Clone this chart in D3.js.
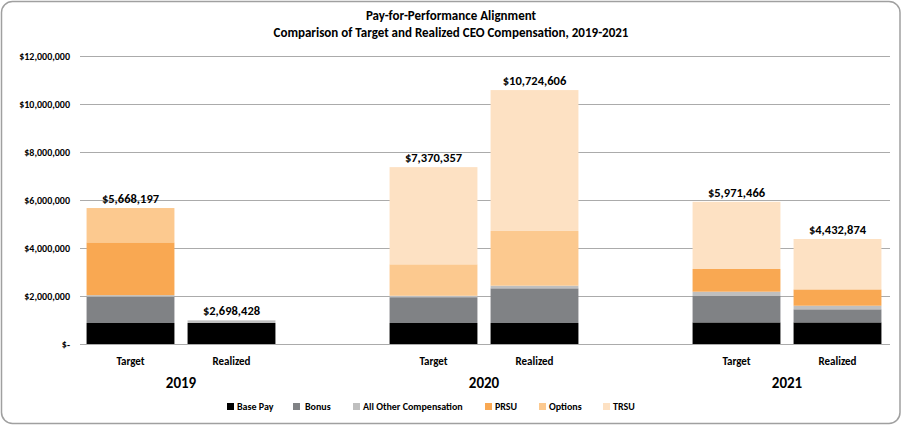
<!DOCTYPE html>
<html>
<head>
<meta charset="utf-8">
<script src="https://cdn.jsdelivr.net/npm/d3@7"></script>
<style>
  html, body { margin: 0; padding: 0; background: #fff; }
  svg { display: block; }
  text { font-family: Carlito, "Liberation Sans Narrow", "Arial Narrow", "Open Sans", sans-serif; font-weight: bold; fill: #000; }
</style>
</head>
<body>
<script>
// ---- data ----
const slots = ["2019-T", "2019-R", "gapA", "2020-T", "2020-R", "gapB", "2021-T", "2021-R"];
const barLabels = ["Target", "Realized", "", "Target", "Realized", "", "Target", "Realized"];
const years = ["2019", "2020", "2021"];
const seriesNames = ["Base Pay", "Bonus", "All Other Compensation", "PRSU", "Options", "TRSU"];
const basePay  = [875000, 875000, 0, 875000, 875000, 0, 900000, 900000];
const bonus    = [1100000, 0, 0, 1075000, 1445000, 0, 1100000, 545000];
const allOther = [60000, 110000, 0, 60000, 110000, 0, 180000, 150000];
const prsu     = [2200000, 0, 0, 0, 0, 0, 945000, 680000];
const options  = [1430000, 0, 0, 1310000, 2280000, 0, 0, 0];
const trsu     = [0, 0, 0, 4050000, 5870000, 0, 2800000, 2100000];
const totalLabels = ["$5,668,197", "$2,698,428", "", "$7,370,357", "$10,724,606", "", "$5,971,466", "$4,432,874"];
const yTicks = [0, 2000000, 4000000, 6000000, 8000000, 10000000, 12000000];
const colors = ["#000000", "#808285", "#bfbfbf", "#f9a852", "#fcc98f", "#fde1c3"];

// ---- layout ----
const W = 902, H = 426;
const svg = d3.select("body").append("svg").attr("width", W).attr("height", H);

svg.append("rect").attr("x", 1.5).attr("y", 1.5).attr("width", W - 3.5).attr("height", H - 4)
  .attr("rx", 11).attr("ry", 11).attr("fill", "#fff").attr("stroke", "#a0a0a0").attr("stroke-width", 1.5);

svg.append("text").attr("x", 451).attr("y", 19.5).attr("text-anchor", "middle")
  .style("font-size", "13px").text("Pay-for-Performance Alignment");
svg.append("text").attr("x", 451).attr("y", 37).attr("text-anchor", "middle")
  .style("font-size", "13px").text("Comparison of Target and Realized CEO Compensation, 2019-2021");

const x = d3.scaleBand().domain(slots).range([80, 888]).paddingInner(0.13).paddingOuter(0.065);
const y = d3.scaleLinear().domain([0, 12000000]).range([344, 56]);

// gridlines
svg.append("g").selectAll("line").data(yTicks).join("line")
  .attr("x1", 80).attr("x2", 890)
  .attr("y1", d => Math.round(y(d)) + 0.5).attr("y2", d => Math.round(y(d)) + 0.5)
  .attr("stroke", "#ababab").attr("stroke-width", 1);

// y axis labels
const fmt = d => d === 0 ? "$-" : "$" + d3.format(",")(d);
const yAxis = d3.axisLeft(y).tickValues(yTicks).tickFormat(fmt).tickSize(0).tickPadding(0);
const gy = svg.append("g").attr("transform", "translate(70,0)").call(yAxis);
gy.select(".domain").remove();
gy.selectAll("text").style("font-size", "10px").style("font-family", null).attr("fill", "#000");

// stacked data
const seriesArrays = [basePay, bonus, allOther, prsu, options, trsu];
const rows = slots.map((s, i) => {
  const r = { slot: s };
  seriesNames.forEach((n, k) => r[n] = seriesArrays[k][i]);
  return r;
});
const stacked = d3.stack().keys(seriesNames)(rows);

svg.append("g").selectAll("g").data(stacked).join("g")
  .attr("fill", (d, i) => colors[i])
  .selectAll("rect").data(d => d.filter(p => p[1] - p[0] > 0)).join("rect")
  .attr("x", d => x(d.data.slot))
  .attr("width", x.bandwidth())
  .attr("y", d => y(d[1]))
  .attr("height", d => y(d[0]) - y(d[1]));

// total labels
svg.append("g").selectAll("text").data(rows.filter((r, i) => totalLabels[i])).join("text")
  .attr("x", d => x(d.slot) + x.bandwidth() / 2)
  .attr("y", d => y(d3.sum(seriesNames, n => d[n])) - 5)
  .attr("text-anchor", "middle").style("font-size", "12.5px")
  .text(d => totalLabels[slots.indexOf(d.slot)]);

// baseline
svg.append("line").attr("x1", 80).attr("x2", 890).attr("y1", 344.5).attr("y2", 344.5)
  .attr("stroke", "#ababab");

// category labels
svg.append("g").selectAll("text").data(slots.filter((s, i) => barLabels[i])).join("text")
  .attr("x", d => x(d) + x.bandwidth() / 2).attr("y", 365)
  .attr("text-anchor", "middle").style("font-size", "11px")
  .text(d => barLabels[slots.indexOf(d)]);

// year labels
svg.append("g").selectAll("text").data(years).join("text")
  .attr("x", (d, i) => (x(slots[i * 3]) + x(slots[i * 3 + 1]) + x.bandwidth()) / 2)
  .attr("y", 388).attr("text-anchor", "middle").style("font-size", "15px")
  .text(d => d);

// legend
const legendX = [227, 293, 353, 485, 539, 603];
const lg = svg.append("g").selectAll("g").data(seriesNames).join("g")
  .attr("transform", (d, i) => `translate(${legendX[i]},403)`);
lg.append("rect").attr("width", 7).attr("height", 7).attr("fill", (d, i) => colors[i]);
lg.append("text").attr("x", (d, i) => i === 1 ? 12 : 10).attr("y", 7).style("font-size", "10px").text(d => d);
</script>
</body>
</html>
